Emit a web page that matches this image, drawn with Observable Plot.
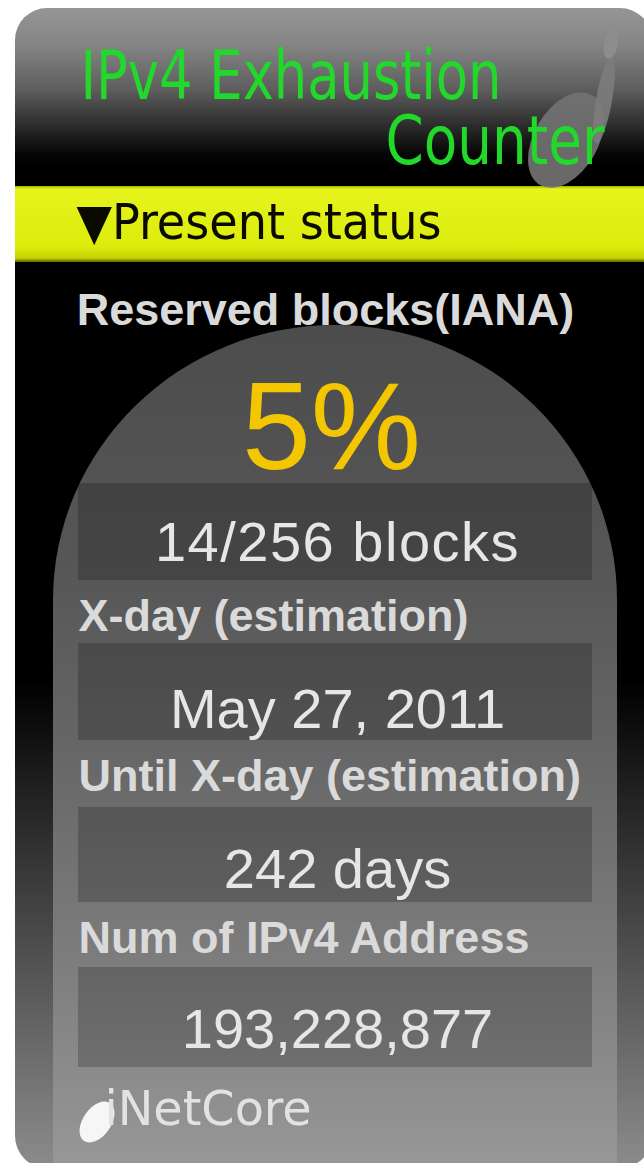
<!DOCTYPE html>
<html>
<head>
<meta charset="utf-8">
<script src="https://cdn.jsdelivr.net/npm/d3@7"></script>
<script src="https://cdn.jsdelivr.net/npm/@observablehq/plot@0.6"></script>
<style>
html, body { margin: 0; padding: 0; background: #ffffff; }
#chart svg { display: block; }
</style>
</head>
<body>
<div id="chart"></div>
<script>
// ---------------- DATA ----------------
const titleLines = ["IPv4 Exhaustion", "Counter"];
const sectionTitle = "▼Present status";
const fieldLabels = ["Reserved blocks(IANA)", "X-day (estimation)", "Until X-day (estimation)", "Num of IPv4 Address"];
const reservedBlocks = 14;
const totalBlocks = 256;
const xDay = "May 27, 2011";
const daysUntil = 242;
const addressCount = 193228877;
const brand = "iNetCore";

// ---------------- DERIVED ----------------
const percentText = Math.round(reservedBlocks / totalBlocks * 100) + "%";
const fieldValues = [
  `${reservedBlocks}/${totalBlocks} blocks`,
  xDay,
  `${daysUntil} days`,
  d3.format(",")(addressCount)
];

// ---------------- LAYOUT (page geometry) ----------------
const W = 644, H = 1163;
const L = {
  card: {x1: 15, x2: 652, y1: 8, y2: 1168, r: 32},
  band: {y1: 186, y2: 262},
  dome: {x1: 53, x2: 617, y1: 325, y2: 1700, rx: 282, ry: 275},
  box: {x1: 78, x2: 592},
  labelX: 78,
  valueX: 337,
  labelBase: [324, 630, 790, 952],
  boxTop: [483, 643, 807, 967],
  boxBottom: [580, 740, 902, 1067],
  valueBase: [560, 727, 887, 1047]
};

const rows = fieldLabels.map((label, i) => ({
  label,
  value: fieldValues[i],
  labelY: L.labelBase[i],
  top: L.boxTop[i],
  bottom: L.boxBottom[i],
  valueY: L.valueBase[i]
}));

// gradients defined as a render-function mark
function defsMark(index, scales) {
  const y = scales.y;
  const defs = d3.create("svg:defs");
  const grad = (id, y1, y2, stops) => {
    const g = defs.append("linearGradient").attr("id", id)
      .attr("gradientUnits", "userSpaceOnUse")
      .attr("x1", 0).attr("x2", 0).attr("y1", y(y1)).attr("y2", y(y2));
    for (const [o, c] of stops) g.append("stop").attr("offset", o).attr("stop-color", c);
  };
  grad("g-outer", 8, 1168, [[0, "#959595"], [0.03, "#868686"], [0.07, "#5e5e5e"], [0.1, "#2e2e2e"], [0.125, "#070707"], [0.135, "#000"], [0.58, "#000"], [0.75, "#3a3a3a"], [1, "#8c8c8c"]]);
  grad("g-panel", 325, 1163, [[0, "#4c4c4c"], [0.3, "#575757"], [0.5, "#666666"], [0.75, "#7c7c7c"], [1, "#979797"]]);
  grad("g-band", 186, 262, [[0, "#a9b000"], [0.04, "#e6f41c"], [0.8, "#dcec0c"], [0.95, "#c4d000"], [1, "#5a6000"]]);
  return defs.node();
}

// logo glyphs (drop + stem) as a render-function mark
function logoMark(spec) {
  return function(index, scales) {
    const {x, y} = scales;
    const g = d3.create("svg:g");
    for (const e of spec) {
      g.append("ellipse")
        .attr("transform", `translate(${x(e.cx)},${y(e.cy)}) rotate(${e.rot})`)
        .attr("rx", e.rx).attr("ry", e.ry)
        .attr("fill", e.fill).attr("fill-opacity", e.op);
    }
    return g.node();
  };
}

const narrow = "'DejaVu Sans Condensed', 'Liberation Sans Narrow', sans-serif";
const sans = "'Liberation Sans', Arial, Helvetica, sans-serif";

const chart = Plot.plot({
  width: W,
  height: H,
  margin: 0,
  x: {domain: [0, W], range: [0, W], axis: null},
  y: {domain: [0, H], range: [0, H], axis: null},
  style: {background: "#ffffff", overflow: "hidden"},
  marks: [
    defsMark,
    // card
    Plot.rect([L.card], {x1: "x1", x2: "x2", y1: "y1", y2: "y2", rx: 32, ry: 32, fill: "url(#g-outer)"}),
    // yellow band
    Plot.rect([L.band], {x1: L.card.x1, x2: L.card.x2, y1: "y1", y2: "y2", fill: "url(#g-band)"}),
    // dome panel
    Plot.rect([L.dome], {x1: "x1", x2: "x2", y1: "y1", y2: "y2", rx: L.dome.rx, ry: L.dome.ry, fill: "url(#g-panel)"}),
    // value boxes
    Plot.rect(rows, {x1: L.box.x1, x2: L.box.x2, y1: "top", y2: "bottom", fill: "#000", fillOpacity: 0.2}),
    // header logo
    logoMark([
      {cx: 566, cy: 140, rx: 32, ry: 52, rot: 30, fill: "#727272", op: 0.92},
      {cx: 604, cy: 100, rx: 8, ry: 44, rot: 10, fill: "#7c7c7c", op: 0.9},
      {cx: 611, cy: 44, rx: 7, ry: 15, rot: 12, fill: "#8e8e8e", op: 0.9}
    ]),
    // title
    Plot.text([titleLines[0]], {x: 80, y: 98, text: d => d, textAnchor: "start", lineAnchor: "bottom",
      fill: "#22d82a", fontSize: 68, fontFamily: narrow}),
    Plot.text([titleLines[1]], {x: 604, y: 163, text: d => d, textAnchor: "end", lineAnchor: "bottom",
      fill: "#22d82a", fontSize: 68, fontFamily: narrow}),
    // section title
    Plot.text([sectionTitle], {x: 76, y: 238, text: d => d, textAnchor: "start", lineAnchor: "bottom",
      fill: "#0a0a00", fontSize: 50, fontFamily: narrow}),
    // field labels
    Plot.text(rows.slice(0, 1), {x: 325, y: "labelY", text: "label", textAnchor: "middle", lineAnchor: "bottom",
      fill: "#dadada", fontSize: 45, fontWeight: "bold", fontFamily: sans}),
    Plot.text(rows.slice(1), {x: L.labelX, y: "labelY", text: "label", textAnchor: "start", lineAnchor: "bottom",
      fill: "#dadada", fontSize: 45, fontWeight: "bold", fontFamily: sans}),
    // big percentage
    Plot.text([percentText], {x: 331, y: 468, text: d => d, textAnchor: "middle", lineAnchor: "bottom",
      fill: "#f3c600", fontSize: 124, fontFamily: sans}),
    // field values
    Plot.text(rows, {x: L.valueX, y: "valueY", text: "value", textAnchor: "middle", lineAnchor: "bottom",
      fill: "#e6e6e6", fontSize: 56, fontFamily: sans}),
    // footer logo
    logoMark([
      {cx: 97, cy: 1122, rx: 14, ry: 23, rot: 35, fill: "#f6f6f6", op: 1}
    ]),
    Plot.text([brand], {x: 104, y: 1124, text: d => d, textAnchor: "start", lineAnchor: "bottom",
      fill: "#e2e2e2", fontSize: 48, fontFamily: narrow})
  ]
});

// fit the condensed display texts to the widths they occupy in the original widget
const fit = new Map([[titleLines[0], 421], [titleLines[1], 219], [sectionTitle, 365], [brand, 207]]);
d3.select(chart).selectAll("text").each(function() {
  const t = this.textContent;
  if (fit.has(t)) {
    d3.select(this).attr("textLength", fit.get(t)).attr("lengthAdjust", "spacingAndGlyphs");
  }
  if (t === fieldValues[0]) d3.select(this).attr("letter-spacing", 1.5);
});

document.getElementById("chart").appendChild(chart);
</script>
</body>
</html>
